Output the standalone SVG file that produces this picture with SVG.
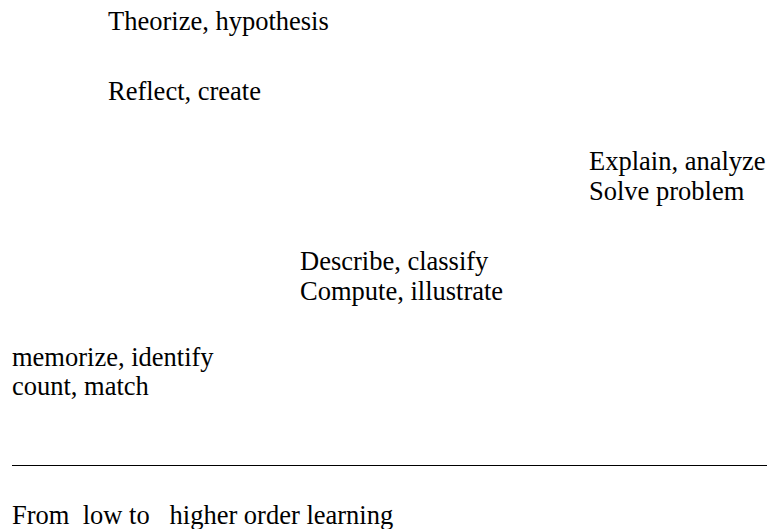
<svg xmlns="http://www.w3.org/2000/svg" width="767" height="529" viewBox="0 0 767 529">
<style>
text{font-family:"Liberation Serif","Times New Roman",serif;font-size:26.5px;fill:#000}
</style>
<rect width="767" height="529" fill="#fff"/>
<g id="level5"><text x="108" y="29.5">Theorize, hypothesis</text></g>
<g id="level4"><text x="108" y="99.5">Reflect, create</text></g>
<g id="level3"><text x="589" y="170">Explain, analyze</text><text x="589" y="200">Solve problem</text></g>
<g id="level2"><text x="300" y="270">Describe, classify</text><text x="300" y="299.5">Compute, illustrate</text></g>
<g id="level1"><text x="12" y="366">memorize, identify</text><text x="12" y="395">count, match</text></g>
<g id="connectors"><line x1="12" y1="465.5" x2="767" y2="465.5" stroke="#000" stroke-width="1.2"/></g>
<g id="caption"><text x="12" y="524" xml:space="preserve">From  low to   higher order learning</text></g>
</svg>
